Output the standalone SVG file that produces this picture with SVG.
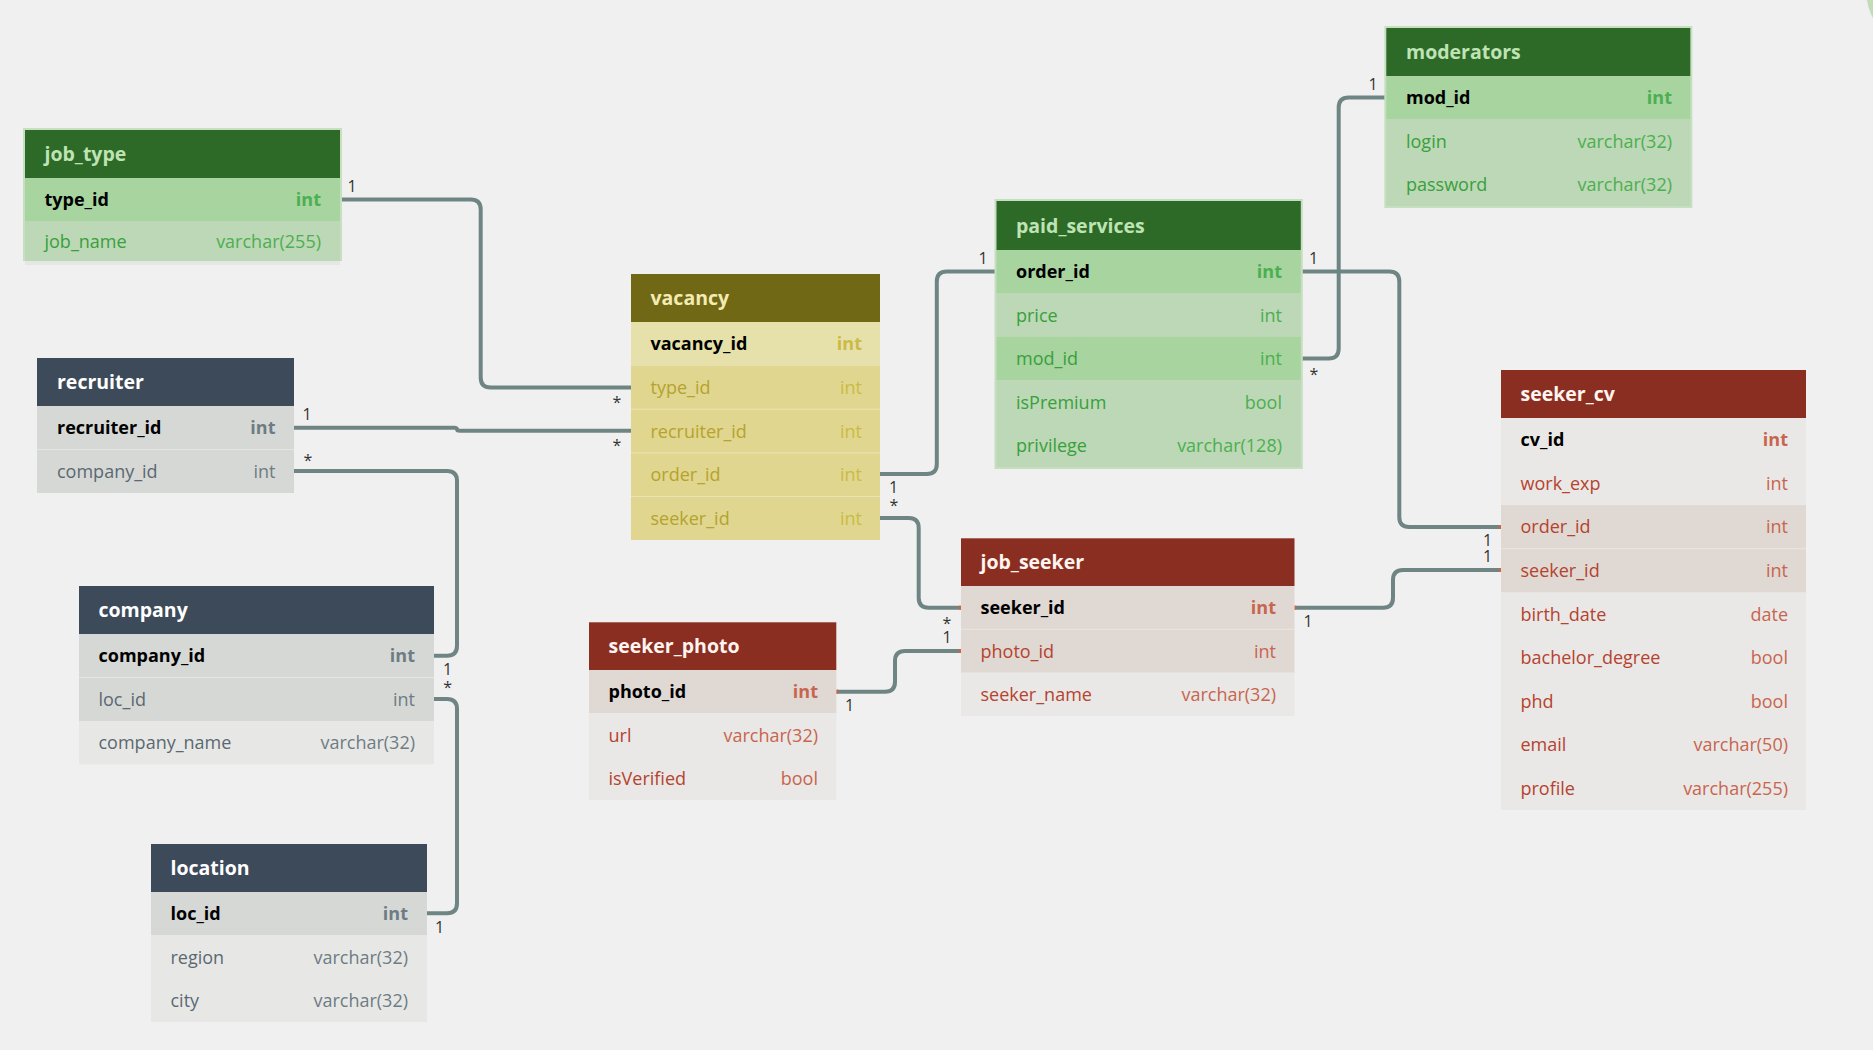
<svg xmlns="http://www.w3.org/2000/svg" width="1873" height="1050" viewBox="0 0 1873 1050">
<style>
text{font-family:'Open Sans','Noto Sans','Liberation Sans',sans-serif}
.ht{font-size:19.5px;font-weight:700}
.fn{font-size:18px}
.ft{font-size:18px;text-anchor:end}
.green .hdr{fill:#2d6a27}.green .ht{fill:#bfe3b4}.green .r1{fill:#a8d4a0}.green .r0{fill:#bcd8b6}.green .fn{fill:#38a03b}.green .ft{fill:#4caf50}.green .edge{fill:#c6dfc0}
.slate .hdr{fill:#3d4a5a}.slate .ht{fill:#ffffff}.slate .r1{fill:#d6d8d5}.slate .r0{fill:#e7e8e6}.slate .fn{fill:#5b6872}.slate .ft{fill:#6e7c84}
.olive .hdr{fill:#716816}.olive .ht{fill:#f4ebb3}.olive .r1{fill:#e0d68f}.olive .r0{fill:#e6e0aa}.olive .fn{fill:#b5a32c}.olive .ft{fill:#cbbb45}
.red .hdr{fill:#8a2e22}.red .ht{fill:#fff4ef}.red .r1{fill:#dfd8d3}.red .r0{fill:#e9e8e6}.red .fn{fill:#b5432f}.red .ft{fill:#c8654f}
.b{font-weight:700}
.fn.b{fill:#000}
.sep{stroke:#ffffff;stroke-opacity:.35;stroke-width:1}
.conn path{fill:none;stroke:#6f8584;stroke-width:4}
.tick-g{fill:#4caf50}.tick-r{fill:#d9603f}
.lbl{font-size:16px;fill:#333;text-anchor:middle}
</style>
<rect width="1873" height="1050" fill="#f0f0f0"/>
<circle cx="1926" cy="-10" r="60" fill="#c2dcba"/>

<!-- relationships -->
<g id="connectors" class="conn">
  <path d="M340,199.5 L470.7,199.5 Q480.7,199.5 480.7,209.5 L480.7,377.5 Q480.7,387.5 490.7,387.5 L631,387.5"/>
  <path d="M294,427.7 L454,427.7 Q457,427.7 457,429.2 Q457,430.7 460,430.7 L631,430.7"/>
  <path d="M294,471 L447,471 Q457,471 457,481 L457,645.7 Q457,655.7 447,655.7 L434,655.7"/>
  <path d="M434,699 L447,699 Q457,699 457,709 L457,903.3 Q457,913.3 447,913.3 L427,913.3"/>
  <path d="M880,474 L926.8,474 Q936.8,474 936.8,464 L936.8,281.5 Q936.8,271.5 946.8,271.5 L996.5,271.5"/>
  <path d="M880,518 L908.7,518 Q918.7,518 918.7,528 L918.7,597.7 Q918.7,607.7 928.7,607.7 L961,607.7"/>
  <path d="M836.3,691.7 L885,691.7 Q895,691.7 895,681.7 L895,661 Q895,651 905,651 L961,651"/>
  <path d="M1294.4,607.7 L1383,607.7 Q1393,607.7 1393,597.7 L1393,580 Q1393,570 1403,570 L1501,570"/>
  <path d="M1300.8,271.5 L1389.3,271.5 Q1399.3,271.5 1399.3,281.5 L1399.3,517 Q1399.3,527 1409.3,527 L1501,527"/>
  <path d="M1300.8,358.5 L1328.7,358.5 Q1338.7,358.5 1338.7,348.5 L1338.7,107.5 Q1338.7,97.5 1348.7,97.5 L1386.3,97.5"/>
  <rect class="tick-g" x="340" y="197.5" width="2" height="4"/>
  <rect class="tick-g" x="994.5" y="269.5" width="2" height="4"/>
  <rect class="tick-g" x="1300.8" y="269.5" width="2" height="4"/>
  <rect class="tick-g" x="1300.8" y="356.5" width="2" height="4"/>
  <rect class="tick-g" x="1384.3" y="95.5" width="2" height="4"/>
  <rect class="tick-r" x="959" y="605.7" width="2" height="4"/>
  <rect class="tick-r" x="959" y="649" width="2" height="4"/>
  <rect class="tick-r" x="1294.4" y="605.7" width="2" height="4"/>
  <rect class="tick-r" x="836.3" y="689.7" width="2" height="4"/>
  <rect class="tick-r" x="1499" y="525" width="2" height="4"/>
  <rect class="tick-r" x="1499" y="568" width="2" height="4"/>
  <text class="lbl" x="352" y="192.3">1</text>
  <text class="lbl" x="617" y="407.5">*</text>
  <text class="lbl" x="307" y="420">1</text>
  <text class="lbl" x="617" y="451.2">*</text>
  <text class="lbl" x="308" y="465.5">*</text>
  <text class="lbl" x="447.5" y="674.5">1</text>
  <text class="lbl" x="447.7" y="692.8">*</text>
  <text class="lbl" x="439.5" y="932.7">1</text>
  <text class="lbl" x="893.5" y="493.3">1</text>
  <text class="lbl" x="893.8" y="511.2">*</text>
  <text class="lbl" x="983" y="264.3">1</text>
  <text class="lbl" x="947" y="628.5">*</text>
  <text class="lbl" x="947" y="642.7">1</text>
  <text class="lbl" x="849.5" y="711">1</text>
  <text class="lbl" x="1308" y="626.7">1</text>
  <text class="lbl" x="1487.5" y="546">1</text>
  <text class="lbl" x="1487.5" y="561.7">1</text>
  <text class="lbl" x="1313.7" y="264.3">1</text>
  <text class="lbl" x="1314" y="379.5">*</text>
  <text class="lbl" x="1373" y="90">1</text>
</g>

<!-- job_type -->
<g id="job_type" class="green">
  <rect class="edge" x="23" y="128" width="319" height="133"/>
  <rect x="25" y="261" width="315" height="4" fill="#e6e7e4"/>
  <rect class="hdr" x="25" y="130" width="315" height="48"/>
  <rect class="r1" x="25" y="178" width="315" height="43.5"/>
  <rect class="r0" x="25" y="221.5" width="315" height="39.5"/>
  <text class="ht" x="44.5" y="161">job_type</text>
  <text class="fn b" x="44.5" y="206.3">type_id</text><text class="ft b" x="321" y="206.3">int</text>
  <text class="fn" x="44.5" y="248">job_name</text><text class="ft" x="321" y="248">varchar(255)</text>
</g>

<!-- recruiter -->
<g id="recruiter" class="slate">
  <rect class="hdr" x="37" y="358" width="257" height="48"/>
  <rect class="r1" x="37" y="406" width="257" height="87"/>
  <line class="sep" x1="37" y1="449.5" x2="294" y2="449.5"/>
  <text class="ht" x="57" y="389">recruiter</text>
  <text class="fn b" x="57" y="434.3">recruiter_id</text><text class="ft b" x="275.5" y="434.3">int</text>
  <text class="fn" x="57" y="477.8">company_id</text><text class="ft" x="275.5" y="477.8">int</text>
</g>

<!-- company -->
<g id="company" class="slate">
  <rect class="hdr" x="79" y="586" width="355" height="48"/>
  <rect class="r1" x="79" y="634" width="355" height="87"/>
  <rect class="r0" x="79" y="721" width="355" height="43.5"/>
  <line class="sep" x1="79" y1="677.5" x2="434" y2="677.5"/>
  <text class="ht" x="98.5" y="617">company</text>
  <text class="fn b" x="98.5" y="662.3">company_id</text><text class="ft b" x="415" y="662.3">int</text>
  <text class="fn" x="98.5" y="705.8">loc_id</text><text class="ft" x="415" y="705.8">int</text>
  <text class="fn" x="98.5" y="749.3">company_name</text><text class="ft" x="415" y="749.3">varchar(32)</text>
</g>

<!-- location -->
<g id="location" class="slate">
  <rect class="hdr" x="151" y="844" width="276" height="48"/>
  <rect class="r1" x="151" y="892" width="276" height="43.3"/>
  <rect class="r0" x="151" y="935.3" width="276" height="86.7"/>
  <text class="ht" x="170.5" y="875">location</text>
  <text class="fn b" x="170.5" y="920.3">loc_id</text><text class="ft b" x="408" y="920.3">int</text>
  <text class="fn" x="170.5" y="963.6">region</text><text class="ft" x="408" y="963.6">varchar(32)</text>
  <text class="fn" x="170.5" y="1006.9">city</text><text class="ft" x="408" y="1006.9">varchar(32)</text>
</g>

<!-- vacancy -->
<g id="vacancy" class="olive">
  <rect class="hdr" x="631" y="274" width="249" height="48"/>
  <rect class="r0" x="631" y="322" width="249" height="43.6"/>
  <rect class="r1" x="631" y="365.6" width="249" height="174.4"/>
  <line class="sep" x1="631" y1="409.2" x2="880" y2="409.2"/>
  <line class="sep" x1="631" y1="452.8" x2="880" y2="452.8"/>
  <line class="sep" x1="631" y1="496.4" x2="880" y2="496.4"/>
  <text class="ht" x="650.5" y="305">vacancy</text>
  <text class="fn b" x="650.5" y="350.3">vacancy_id</text><text class="ft b" x="862" y="350.3">int</text>
  <text class="fn" x="650.5" y="393.9">type_id</text><text class="ft" x="862" y="393.9">int</text>
  <text class="fn" x="650.5" y="437.5">recruiter_id</text><text class="ft" x="862" y="437.5">int</text>
  <text class="fn" x="650.5" y="481.1">order_id</text><text class="ft" x="862" y="481.1">int</text>
  <text class="fn" x="650.5" y="524.7">seeker_id</text><text class="ft" x="862" y="524.7">int</text>
</g>

<!-- paid_services -->
<g id="paid_services" class="green">
  <rect class="edge" x="994.5" y="199" width="308.3" height="270"/>
  <rect class="hdr" x="996.5" y="201" width="304.3" height="49"/>
  <rect class="r1" x="996.5" y="250" width="304.3" height="43.4"/>
  <rect class="r0" x="996.5" y="293.4" width="304.3" height="43.4"/>
  <rect class="r1" x="996.5" y="336.8" width="304.3" height="43.4"/>
  <rect class="r0" x="996.5" y="380.2" width="304.3" height="86.8"/>
  <text class="ht" x="1016" y="232.5">paid_services</text>
  <text class="fn b" x="1016" y="278.3">order_id</text><text class="ft b" x="1282" y="278.3">int</text>
  <text class="fn" x="1016" y="321.7">price</text><text class="ft" x="1282" y="321.7">int</text>
  <text class="fn" x="1016" y="365.1">mod_id</text><text class="ft" x="1282" y="365.1">int</text>
  <text class="fn" x="1016" y="408.5">isPremium</text><text class="ft" x="1282" y="408.5">bool</text>
  <text class="fn" x="1016" y="451.9">privilege</text><text class="ft" x="1282" y="451.9">varchar(128)</text>
</g>

<!-- moderators -->
<g id="moderators" class="green">
  <rect class="edge" x="1384.3" y="26" width="308" height="182"/>
  <rect class="hdr" x="1386.3" y="28" width="304" height="48"/>
  <rect class="r1" x="1386.3" y="76" width="304" height="43.3"/>
  <rect class="r0" x="1386.3" y="119.3" width="304" height="86.7"/>
  <text class="ht" x="1406" y="59">moderators</text>
  <text class="fn b" x="1406" y="104.3">mod_id</text><text class="ft b" x="1672" y="104.3">int</text>
  <text class="fn" x="1406" y="147.6">login</text><text class="ft" x="1672" y="147.6">varchar(32)</text>
  <text class="fn" x="1406" y="190.9">password</text><text class="ft" x="1672" y="190.9">varchar(32)</text>
</g>

<!-- seeker_cv -->
<g id="seeker_cv" class="red">
  <rect class="hdr" x="1501" y="370" width="305" height="48"/>
  <rect class="r0" x="1501" y="418" width="305" height="392"/>
  <rect class="r1" x="1501" y="505.1" width="305" height="87.1"/>
  <line class="sep" x1="1501" y1="548.7" x2="1806" y2="548.7"/>
  <text class="ht" x="1520.5" y="401">seeker_cv</text>
  <text class="fn b" x="1520.5" y="446.3">cv_id</text><text class="ft b" x="1788" y="446.3">int</text>
  <text class="fn" x="1520.5" y="489.9">work_exp</text><text class="ft" x="1788" y="489.9">int</text>
  <text class="fn" x="1520.5" y="533.4">order_id</text><text class="ft" x="1788" y="533.4">int</text>
  <text class="fn" x="1520.5" y="577">seeker_id</text><text class="ft" x="1788" y="577">int</text>
  <text class="fn" x="1520.5" y="620.5">birth_date</text><text class="ft" x="1788" y="620.5">date</text>
  <text class="fn" x="1520.5" y="664.1">bachelor_degree</text><text class="ft" x="1788" y="664.1">bool</text>
  <text class="fn" x="1520.5" y="707.6">phd</text><text class="ft" x="1788" y="707.6">bool</text>
  <text class="fn" x="1520.5" y="751.2">email</text><text class="ft" x="1788" y="751.2">varchar(50)</text>
  <text class="fn" x="1520.5" y="794.7">profile</text><text class="ft" x="1788" y="794.7">varchar(255)</text>
</g>

<!-- job_seeker -->
<g id="job_seeker" class="red">
  <rect class="hdr" x="961" y="538.3" width="333.5" height="47.7"/>
  <rect class="r1" x="961" y="586" width="333.5" height="86.7"/>
  <rect class="r0" x="961" y="672.7" width="333.5" height="43.3"/>
  <line class="sep" x1="961" y1="629.3" x2="1294.5" y2="629.3"/>
  <text class="ht" x="980.5" y="569">job_seeker</text>
  <text class="fn b" x="980.5" y="614.3">seeker_id</text><text class="ft b" x="1276" y="614.3">int</text>
  <text class="fn" x="980.5" y="657.6">photo_id</text><text class="ft" x="1276" y="657.6">int</text>
  <text class="fn" x="980.5" y="701">seeker_name</text><text class="ft" x="1276" y="701">varchar(32)</text>
</g>

<!-- seeker_photo -->
<g id="seeker_photo" class="red">
  <rect class="hdr" x="589" y="622.3" width="247.3" height="47.7"/>
  <rect class="r1" x="589" y="670" width="247.3" height="43.3"/>
  <rect class="r0" x="589" y="713.3" width="247.3" height="86.7"/>
  <text class="ht" x="608.5" y="653">seeker_photo</text>
  <text class="fn b" x="608.5" y="698.3">photo_id</text><text class="ft b" x="818" y="698.3">int</text>
  <text class="fn" x="608.5" y="741.6">url</text><text class="ft" x="818" y="741.6">varchar(32)</text>
  <text class="fn" x="608.5" y="785">isVerified</text><text class="ft" x="818" y="785">bool</text>
</g>
</svg>
